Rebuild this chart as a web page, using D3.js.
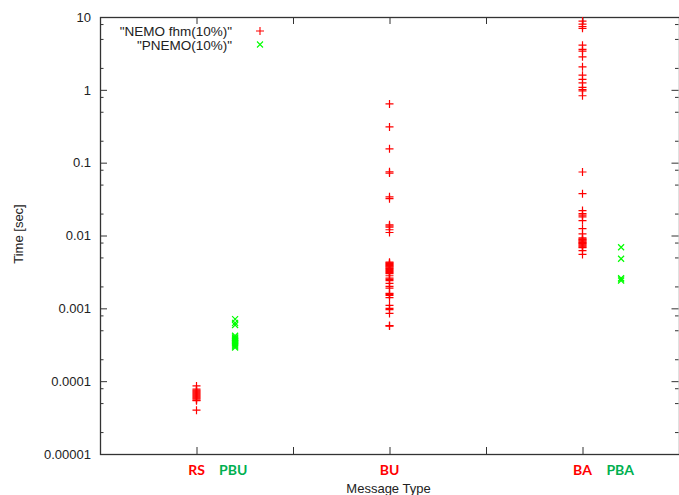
<!DOCTYPE html>
<html>
<head>
<meta charset="utf-8">
<script src="https://cdn.jsdelivr.net/npm/d3@7"></script>
<style>
    body { margin: 0; background: #fff; }
    svg { display: block; }
    text { font-family: "Liberation Sans", Arial, sans-serif; fill: #222; }
</style>
</head>
<body>
<div id="chart"></div>
<script>
// series names (legend)
var seriesNames = ['"NEMO fhm(10%)"', '"PNEMO(10%)"'];

// NEMO fhm(10%) values, sec
var nemoX = [1, 3, 5];
var nemoRS = [0.000086, 0.000078, 0.000075, 0.000073, 0.000071, 0.000069, 0.000067,
    0.000065, 0.000063, 0.000061, 0.000059, 0.000057, 0.000055, 0.000054, 0.00004];
var nemoBU = [0.64, 0.31, 0.155, 0.075, 0.072, 0.034, 0.032, 0.014, 0.0135, 0.013,
    0.012, 0.011, 0.0043, 0.0042, 0.0041, 0.004, 0.0039, 0.0038, 0.0037, 0.0036,
    0.0035, 0.0034, 0.0033, 0.0032, 0.0031, 0.003, 0.0028, 0.0026, 0.0025, 0.0024,
    0.0022, 0.002, 0.0019, 0.0016, 0.00155, 0.0015, 0.0014, 0.0011, 0.001,
    0.00096, 0.00085, 0.00058, 0.00057];
var nemoBA = [8.8, 8.0, 7.4, 7.0, 4.1, 3.6, 3.4, 2.84, 2.07, 1.59, 1.39, 1.25, 1.08,
    1.01, 0.97, 0.83, 0.0745, 0.0375, 0.022, 0.02, 0.019, 0.018, 0.016, 0.0124,
    0.0105, 0.0093, 0.009, 0.0088, 0.0086, 0.0084, 0.0082, 0.008, 0.0078, 0.0076,
    0.0074, 0.0072, 0.007, 0.0068, 0.0062, 0.0055];

// PNEMO(10%) values
var pnemoX = [1.4, 5.4];
var pnemoPBU = [0.00071, 0.00063, 0.00059, 0.00042, 0.0004, 0.00039, 0.00038,
    0.00037, 0.00036, 0.00035, 0.00034, 0.00033, 0.00032, 0.00031, 0.0003, 0.00029];
var pnemoPBA = [0.0069, 0.0048, 0.0026, 0.0025, 0.0024];

// category labels under the x axis
var catLabels = ['RS', 'PBU', 'BU', 'BA', 'PBA'];
var catLabelX = [1, 1.38, 3, 5, 5.39];
var catColors = ['#ff0000', '#00b050', '#ff0000', '#ff0000', '#00b050'];

// y axis ticks
var yMajor = [10, 1, 0.1, 0.01, 0.001, 0.0001, 0.00001];
var yLabels = ['10', '1', '0.1', '0.01', '0.001', '0.0001', '0.00001'];
var xTicks = [1, 2, 3, 4, 5];

(function () {
    "use strict";

    var width = 679, height = 495;
    var mLeft = 100, mRight = 679, mTop = 17, mBottom = 454;
    var red = '#ff0000', green = '#00ff00';
    var axisCol = '#333';

    var svg = d3.select('#chart').append('svg')
        .attr('width', width).attr('height', height);

    var x = d3.scaleLinear().domain([0, 6]).range([mLeft, mRight]);
    var y = d3.scaleLog().domain([0.00001, 10]).range([mBottom, mTop]);

    // minor ticks at 2, 5, 8 of each decade
    var yMinor = [];
    yMajor.slice(1).forEach(function (v) {
        [2, 5, 8].forEach(function (m) { yMinor.push(v * m); });
    });

    function styleAxis(g) {
        g.select('.domain').remove();
        g.selectAll('line').attr('stroke', axisCol);
        g.selectAll('text').style('font-size', '13px').style('fill', '#222');
    }

    // left axis, inward ticks
    svg.append('g').attr('transform', 'translate(' + mLeft + ',0)')
        .call(d3.axisLeft(y).tickValues(yMajor).tickSize(-7).tickPadding(9)
            .tickFormat(function (d, i) { return yLabels[i]; }))
        .call(styleAxis);
    svg.append('g').attr('transform', 'translate(' + mLeft + ',0)')
        .call(d3.axisLeft(y).tickValues(yMinor).tickSize(-3.5).tickFormat(''))
        .call(styleAxis);

    // right mirror ticks
    svg.append('g').attr('transform', 'translate(' + (mRight - 0.5) + ',0)')
        .call(d3.axisRight(y).tickValues(yMajor).tickSize(-7).tickFormat(''))
        .call(styleAxis);
    svg.append('g').attr('transform', 'translate(' + (mRight - 0.5) + ',0)')
        .call(d3.axisRight(y).tickValues(yMinor).tickSize(-3.5).tickFormat(''))
        .call(styleAxis);

    // bottom + top ticks, no labels
    svg.append('g').attr('transform', 'translate(0,' + mBottom + ')')
        .call(d3.axisBottom(x).tickValues(xTicks).tickSize(-7).tickFormat(''))
        .call(styleAxis);
    svg.append('g').attr('transform', 'translate(0,' + mTop + ')')
        .call(d3.axisTop(x).tickValues(xTicks).tickSize(-7).tickFormat(''))
        .call(styleAxis);

    // frame
    svg.append('rect')
        .attr('x', mLeft + 0.5).attr('y', mTop + 0.5)
        .attr('width', mRight - mLeft).attr('height', mBottom - mTop)
        .attr('fill', 'none').attr('stroke', axisCol).attr('stroke-width', 1.3);

    // marks
    var plus = 'M-4,0H4M0,-4V4';
    var cross = 'M-3,-3L3,3M-3,3L3,-3';

    function drawPoints(cx, values, path, color) {
        svg.append('g').selectAll('path').data(values).enter().append('path')
            .attr('transform', function (d) {
                return 'translate(' + x(cx) + ',' + y(d) + ')';
            })
            .attr('d', path)
            .attr('fill', 'none')
            .attr('stroke', color)
            .attr('stroke-width', 1.2);
    }

    [nemoRS, nemoBU, nemoBA].forEach(function (vals, i) {
        drawPoints(nemoX[i], vals, plus, red);
    });
    [pnemoPBU, pnemoPBA].forEach(function (vals, i) {
        drawPoints(pnemoX[i], vals, cross, green);
    });

    // legend
    var legend = svg.append('g');
    [[plus, red], [cross, green]].forEach(function (m, i) {
        legend.append('text')
            .attr('x', 232).attr('y', 35.5 + i * 14)
            .attr('text-anchor', 'end')
            .style('font-size', '13.5px')
            .text(seriesNames[i]);
        legend.append('path')
            .attr('transform', 'translate(260,' + (31 + i * 13.5) + ')')
            .attr('d', m[0]).attr('fill', 'none')
            .attr('stroke', m[1]).attr('stroke-width', 1.1);
    });

    // category labels
    svg.append('g').selectAll('text').data(catLabels).enter().append('text')
        .attr('x', function (d, i) { return x(catLabelX[i]); })
        .attr('y', 475)
        .attr('text-anchor', 'middle')
        .style('font-family', 'Lato, "Open Sans", sans-serif')
        .style('font-weight', 'bold')
        .style('font-size', '14px')
        .style('fill', function (d, i) { return catColors[i]; })
        .text(function (d) { return d; });

    // axis titles
    svg.append('text')
        .attr('x', (mLeft + mRight) / 2 - 1).attr('y', 493)
        .attr('text-anchor', 'middle')
        .style('font-size', '13px')
        .text('Message Type');

    svg.append('text')
        .attr('transform', 'translate(23,234) rotate(-90)')
        .attr('text-anchor', 'middle')
        .style('font-size', '13px')
        .text('Time [sec]');
}());
</script>
</body>
</html>
